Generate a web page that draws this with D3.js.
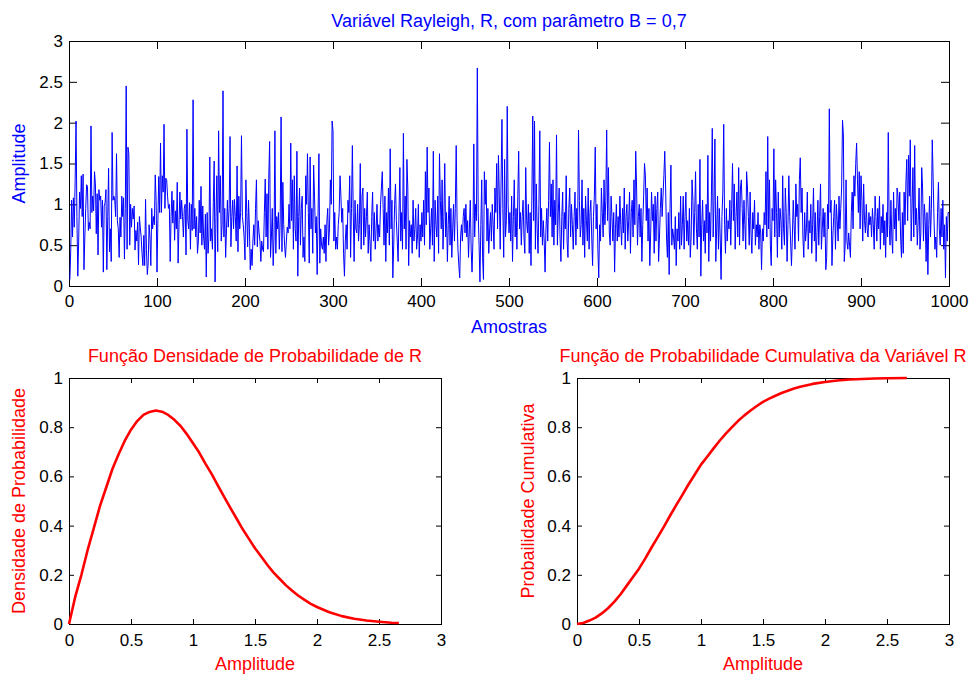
<!DOCTYPE html>
<html>
<head>
<meta charset="utf-8">
<script src="https://cdn.jsdelivr.net/npm/d3@7"></script>
<style>
  html, body { margin: 0; padding: 0; background: #fff; }
  svg { display: block; font-family: 'Liberation Sans', Arial, sans-serif; }
</style>
</head>
<body>
<svg width="969" height="675"></svg>
<script>
'use strict'

// amostras da variavel Rayleigh (1000 pontos)
const samples = [
  0.08, 0.45, 1.05, 0.6, 1.08, 0.72, 1.3, 2.02, 0.85, 0.12, 0.55, 1.15, 0.95, 1.35, 0.85, 1.37, 0.2, 0.6, 0.95, 1.24,
  1.22, 0.68, 0.78, 0.7, 1.96, 0.9, 1.1, 0.92, 1.4, 1.25, 0.64, 1.13, 0.38, 1.18, 1.05, 1.1, 0.72, 1.05, 0.17, 0.98,
  1.02, 1.18, 0.2, 0.85, 1.44, 0.42, 0.7, 0.3, 1.88, 1.05, 1.1, 1.05, 0.85, 1.62, 0.8, 0.7, 0.35, 0.84, 0.6, 1.1,
  0.85, 1.08, 0.33, 0.95, 2.45, 0.45, 1.7, 1.62, 0.5, 1.0, 0.72, 0.95, 0.82, 0.98, 0.44, 0.68, 0.55, 0.78, 0.26, 0.85,
  0.72, 0.6, 0.4, 0.25, 0.62, 0.25, 1.06, 0.45, 0.14, 0.28, 0.75, 0.6, 0.25, 0.95, 0.7, 0.85, 0.75, 1.36, 1.05, 0.17,
  0.8, 1.34, 0.9, 1.75, 0.9, 1.35, 1.15, 1.98, 0.95, 1.32, 1.3, 1.1, 0.95, 1.0, 0.3, 0.85, 1.16, 0.77, 1.05, 0.56,
  0.92, 0.7, 1.27, 0.28, 0.75, 1.15, 0.82, 1.05, 0.85, 0.6, 0.95, 1.0, 0.38, 1.92, 0.8, 0.7, 1.02, 0.45, 1.0, 0.68,
  2.28, 0.7, 0.95, 0.6, 0.85, 0.4, 0.55, 1.05, 0.65, 1.22, 0.5, 0.98, 0.6, 0.45, 0.88, 0.11, 0.9, 0.4, 0.6, 1.58,
  0.55, 0.7, 0.45, 1.02, 1.53, 0.05, 0.85, 1.35, 0.42, 1.9, 0.9, 1.35, 0.55, 0.75, 2.39, 0.6, 0.95, 0.35, 0.7, 1.05,
  0.72, 0.95, 1.83, 0.48, 0.85, 1.05, 0.7, 1.06, 0.85, 0.55, 1.47, 0.42, 1.1, 0.7, 0.9, 1.84, 0.85, 0.75, 0.6, 0.32,
  1.3, 0.9, 0.48, 1.05, 0.7, 0.2, 0.45, 0.25, 0.55, 0.75, 0.5, 0.95, 1.3, 0.48, 0.8, 0.65, 0.55, 0.3, 0.55, 0.45,
  0.42, 0.9, 1.31, 0.6, 1.13, 0.45, 1.32, 1.77, 0.35, 0.6, 0.95, 0.25, 0.6, 1.9, 0.4, 0.85, 0.7, 0.9, 0.45, 0.8,
  2.07, 0.42, 1.27, 0.75, 0.5, 0.35, 0.55, 0.72, 0.65, 1.0, 0.7, 1.75, 0.8, 1.3, 0.45, 1.35, 0.7, 0.55, 1.65, 0.12,
  0.85, 1.2, 0.5, 0.95, 1.1, 0.35, 0.6, 0.3, 1.35, 1.0, 1.62, 0.9, 0.28, 1.58, 0.7, 0.95, 0.4, 1.48, 1.1, 0.65,
  0.85, 0.14, 0.85, 1.62, 0.28, 0.7, 0.5, 0.45, 0.6, 0.4, 0.75, 0.3, 0.78, 0.95, 0.5, 0.7, 1.3, 1.0, 2.02, 1.9,
  0.55, 0.9, 0.45, 0.6, 0.45, 0.75, 0.9, 1.35, 1.1, 0.78, 0.95, 0.4, 0.12, 0.55, 0.75, 0.45, 1.05, 0.9, 1.35, 0.35,
  0.95, 1.72, 0.9, 0.3, 1.05, 0.7, 0.65, 1.0, 0.55, 0.75, 1.5, 0.45, 1.1, 1.2, 0.5, 0.95, 0.6, 0.85, 1.15, 0.4,
  0.75, 0.55, 0.3, 0.85, 1.15, 0.55, 0.9, 0.45, 0.7, 1.0, 0.55, 0.75, 0.6, 1.0, 1.2, 1.4, 0.95, 0.5, 1.1, 0.3,
  0.9, 0.65, 1.2, 0.5, 1.68, 0.7, 1.05, 0.1, 0.5, 1.0, 1.25, 0.8, 0.55, 0.3, 0.9, 1.45, 0.55, 0.9, 0.45, 1.87,
  0.7, 1.1, 0.45, 1.55, 1.2, 0.25, 0.8, 0.6, 0.75, 0.4, 1.05, 0.55, 0.7, 0.95, 0.45, 0.6, 1.0, 0.35, 0.75, 0.55,
  0.9, 0.6, 1.05, 0.5, 1.4, 0.75, 1.7, 0.9, 1.2, 0.45, 0.7, 0.95, 0.5, 1.65, 0.3, 1.05, 0.75, 0.6, 1.1, 0.4,
  1.62, 1.05, 0.7, 1.3, 0.45, 0.85, 1.5, 0.6, 0.9, 0.3, 0.75, 1.1, 0.5, 0.95, 0.35, 0.7, 1.0, 0.55, 0.95, 1.72,
  0.8, 0.45, 0.25, 0.1, 0.6, 0.75, 0.55, 0.85, 0.95, 0.65, 1.0, 0.6, 0.8, 0.35, 0.7, 1.05, 0.45, 0.17, 0.55, 1.74,
  0.6, 1.0, 0.8, 2.67, 0.9, 0.5, 0.05, 0.75, 1.3, 0.35, 0.08, 1.4, 1.0, 1.3, 0.55, 0.95, 0.4, 0.7, 0.9, 0.55,
  1.0, 0.75, 0.45, 1.2, 0.9, 1.5, 0.7, 1.6, 1.1, 0.45, 1.3, 2.04, 0.95, 0.35, 1.55, 0.6, 0.8, 2.2, 1.0, 0.65,
  0.9, 0.55, 1.1, 0.3, 0.85, 1.3, 0.6, 0.95, 0.45, 1.1, 1.65, 0.7, 0.9, 0.5, 0.85, 1.05, 0.6, 0.4, 1.45, 0.8,
  0.65, 1.0, 0.4, 0.9, 0.25, 1.1, 2.08, 0.8, 2.02, 0.45, 1.25, 0.7, 0.4, 1.0, 1.9, 0.6, 0.95, 0.5, 0.8, 0.55,
  0.17, 0.7, 0.95, 0.55, 1.05, 1.76, 0.85, 1.25, 0.6, 1.3, 0.5, 1.05, 0.75, 1.85, 0.5, 0.9, 1.2, 0.6, 0.3, 0.85,
  1.15, 0.45, 0.9, 0.7, 1.35, 0.55, 0.35, 0.95, 1.2, 0.6, 1.0, 0.75, 0.45, 0.85, 1.15, 0.5, 0.95, 0.7, 1.91, 1.05,
  0.6, 0.75, 1.3, 0.5, 0.95, 0.35, 1.1, 0.8, 0.55, 1.2, 0.45, 0.9, 1.05, 0.6, 0.25, 0.85, 1.1, 1.7, 0.7, 1.0,
  0.45, 0.1, 0.75, 0.55, 1.2, 0.9, 0.6, 1.3, 0.75, 1.05, 1.91, 0.8, 1.45, 0.65, 0.5, 1.1, 0.85, 0.55, 0.9, 0.17,
  0.7, 1.0, 0.55, 0.85, 0.6, 1.1, 0.75, 0.5, 0.95, 0.65, 1.2, 0.45, 0.85, 1.0, 0.55, 0.8, 1.15, 0.4, 0.9, 1.05,
  0.6, 1.3, 0.75, 1.65, 1.2, 0.5, 0.85, 1.0, 0.6, 0.95, 0.3, 0.75, 1.1, 1.5, 1.35, 0.8, 1.2, 0.55, 0.95, 0.25,
  0.65, 1.15, 0.8, 1.0, 0.4, 1.1, 0.55, 0.95, 1.15, 0.3, 0.6, 0.95, 1.2, 0.85, 1.1, 1.35, 1.65, 1.2, 0.6, 0.35,
  0.9, 0.14, 0.95, 1.48, 0.5, 0.7, 0.6, 0.45, 0.85, 0.25, 0.7, 0.55, 0.9, 0.45, 1.1, 0.5, 0.75, 1.1, 0.45, 0.85,
  1.15, 0.55, 0.8, 0.5, 0.95, 0.35, 0.6, 1.3, 1.05, 0.5, 0.9, 1.4, 0.7, 0.45, 1.0, 0.6, 1.55, 0.12, 0.75, 1.05,
  0.55, 0.8, 0.4, 1.0, 0.65, 1.6, 0.3, 0.9, 0.55, 1.1, 1.93, 0.6, 1.05, 1.8, 0.3, 0.7, 1.1, 0.45, 0.95, 0.6,
  0.08, 0.85, 1.15, 1.98, 0.75, 0.4, 0.95, 0.55, 0.8, 0.7, 1.05, 0.5, 0.95, 1.5, 0.8, 1.25, 0.45, 0.85, 1.15, 0.6,
  1.45, 0.5, 1.2, 1.3, 0.95, 0.55, 1.05, 0.75, 0.45, 1.4, 1.2, 0.85, 0.5, 1.15, 0.65, 0.4, 0.9, 0.7, 1.05, 0.5,
  0.75, 0.6, 0.9, 0.45, 0.75, 0.65, 0.2, 0.7, 0.55, 0.9, 0.75, 1.4, 0.6, 1.83, 0.7, 1.3, 0.5, 0.25, 0.95, 0.8,
  1.68, 0.6, 1.3, 0.9, 0.35, 1.15, 0.6, 0.95, 0.8, 0.45, 1.35, 0.7, 0.5, 1.2, 0.9, 0.3, 0.75, 1.35, 0.85, 0.55,
  0.25, 0.6, 1.05, 0.75, 0.45, 1.25, 0.85, 1.0, 0.55, 1.3, 1.57, 0.9, 1.2, 0.6, 0.35, 0.9, 0.55, 0.7, 1.15, 0.45,
  0.8, 0.65, 1.0, 0.4, 0.75, 1.2, 0.55, 0.9, 0.3, 0.65, 1.05, 0.5, 0.85, 1.25, 0.45, 0.7, 0.95, 0.6, 0.9, 0.2,
  0.35, 1.0, 0.7, 2.17, 0.9, 1.05, 0.25, 0.6, 0.85, 1.05, 0.45, 1.0, 0.8, 0.55, 1.1, 0.7, 0.95, 1.2, 2.03, 1.85,
  0.3, 0.5, 1.3, 0.55, 0.45, 0.65, 0.5, 0.35, 0.9, 1.15, 0.7, 1.35, 1.1, 1.5, 1.75, 1.3, 0.9, 1.4, 0.7, 1.35,
  1.05, 0.55, 1.25, 0.8, 0.65, 1.0, 0.7, 0.6, 0.9, 0.75, 0.85, 0.6, 0.95, 0.75, 0.45, 1.1, 0.85, 0.55, 0.95, 0.7,
  1.1, 0.45, 0.85, 0.65, 1.0, 0.5, 0.8, 0.35, 0.9, 0.6, 1.88, 0.75, 0.5, 1.05, 0.6, 0.4, 1.15, 0.7, 0.95, 0.55,
  1.2, 1.1, 0.8, 1.15, 0.6, 0.35, 0.9, 0.4, 1.15, 0.75, 1.25, 1.55, 0.8, 1.6, 1.1, 1.79, 0.55, 0.95, 1.45, 0.6,
  1.72, 0.75, 0.95, 0.5, 0.8, 1.2, 0.45, 0.65, 1.45, 1.2, 0.55, 1.0, 0.8, 0.3, 0.9, 0.14, 0.75, 1.1, 0.6, 0.95,
  1.79, 1.3, 0.8, 0.45, 0.6, 0.35, 0.9, 1.27, 0.7, 0.5, 0.95, 0.6, 1.05, 0.45, 0.75, 0.1, 0.85, 0.55, 0.9, 0.9
]

// densidade de probabilidade estimada
const pdfAmplitude = [0, 0.05, 0.1, 0.15, 0.2, 0.25, 0.3, 0.35, 0.4, 0.45, 0.5, 0.55, 0.6, 0.65, 0.7, 0.75, 0.8, 0.85, 0.9, 0.95,
  1.0, 1.05, 1.1, 1.15, 1.2, 1.25, 1.3, 1.35, 1.4, 1.45, 1.5, 1.55, 1.6, 1.65, 1.7, 1.75, 1.8, 1.85, 1.9, 1.95,
  2.0, 2.1, 2.2, 2.3, 2.4, 2.5, 2.6, 2.66]
const pdfValues = [0, 0.11, 0.2, 0.3, 0.39, 0.48, 0.555, 0.63, 0.69, 0.745, 0.79, 0.825, 0.85, 0.862, 0.868, 0.863, 0.85, 0.83, 0.805, 0.772,
  0.735, 0.697, 0.652, 0.61, 0.564, 0.518, 0.473, 0.43, 0.386, 0.347, 0.308, 0.274, 0.24, 0.209, 0.183, 0.157, 0.135, 0.115, 0.098, 0.082,
  0.069, 0.048, 0.032, 0.021, 0.014, 0.009, 0.005, 0.004]

// probabilidade cumulativa
const cdfAmplitude = [0, 0.05, 0.1, 0.15, 0.2, 0.25, 0.3, 0.35, 0.4, 0.45, 0.5, 0.55, 0.6, 0.65, 0.7, 0.75, 0.8, 0.85, 0.9, 0.95,
  1.0, 1.05, 1.1, 1.15, 1.2, 1.25, 1.3, 1.35, 1.4, 1.45, 1.5, 1.55, 1.6, 1.65, 1.7, 1.75, 1.8, 1.9, 2.0, 2.1,
  2.2, 2.3, 2.4, 2.5, 2.66]
const cdfValues = [0, 0.004, 0.014, 0.026, 0.043, 0.064, 0.09, 0.12, 0.155, 0.19, 0.225, 0.266, 0.31, 0.352, 0.395, 0.44, 0.483, 0.525, 0.568, 0.608,
  0.648, 0.68, 0.713, 0.745, 0.774, 0.8, 0.826, 0.848, 0.868, 0.886, 0.903, 0.916, 0.928, 0.939, 0.948, 0.957, 0.964, 0.976, 0.984, 0.99,
  0.994, 0.996, 0.998, 0.999, 1.0]

const sampleTicks = [0, 100, 200, 300, 400, 500, 600, 700, 800, 900, 1000]
const amplitudeTicks = [0, 0.5, 1, 1.5, 2, 2.5, 3]
const probabilityTicks = [0, 0.2, 0.4, 0.6, 0.8, 1]

const svg = d3.select('body svg')
svg.append('rect').attr('width', 969).attr('height', 675).attr('fill', '#fff')

const drawPanel = (opt) => {
  const g = svg.append('g').attr('transform', `translate(${opt.left}, ${opt.top})`)
  const xScale = d3.scaleLinear().domain(opt.xDomain).range([0, opt.width])
  const yScale = d3.scaleLinear().domain(opt.yDomain).range([opt.height, 0])

  const fmt = (d) => String(d)
  const styleAxis = (sel) => {
    sel.select('path.domain').remove()
    sel.selectAll('g.tick line').attr('stroke', '#000')
    sel.selectAll('g.tick text').attr('fill', '#000').style('font-size', '17px')
  }

  g.append('g').attr('transform', `translate(0, ${opt.height})`)
    .call(d3.axisBottom(xScale).tickValues(opt.xTicks).tickFormat(fmt)
      .tickSizeInner(-opt.tickLen).tickSizeOuter(0).tickPadding(opt.xPad))
    .call(styleAxis)
  g.append('g')
    .call(d3.axisTop(xScale).tickValues(opt.xTicks).tickFormat('')
      .tickSizeInner(-opt.tickLen).tickSizeOuter(0))
    .call(styleAxis)
  g.append('g')
    .call(d3.axisLeft(yScale).tickValues(opt.yTicks).tickFormat(fmt)
      .tickSizeInner(-opt.tickLen).tickSizeOuter(0).tickPadding(6))
    .call(styleAxis)
  g.append('g').attr('transform', `translate(${opt.width}, 0)`)
    .call(d3.axisRight(yScale).tickValues(opt.yTicks).tickFormat('')
      .tickSizeInner(-opt.tickLen).tickSizeOuter(0))
    .call(styleAxis)

  g.append('rect')
    .attr('x', 0).attr('y', 0)
    .attr('width', opt.width).attr('height', opt.height)
    .attr('fill', 'none').attr('stroke', '#000').attr('stroke-width', 1)
    .attr('shape-rendering', 'crispEdges')

  const line = d3.line()
    .x((d) => xScale(d[0]))
    .y((d) => yScale(d[1]))
  g.append('path')
    .datum(opt.points)
    .attr('d', line)
    .attr('fill', 'none')
    .attr('stroke', opt.lineColor)
    .attr('stroke-width', opt.lineWidth)
    .attr('stroke-linejoin', 'round')

  g.append('text')
    .attr('x', opt.width / 2).attr('y', opt.titleY)
    .attr('text-anchor', 'middle')
    .attr('fill', opt.textColor).style('font-size', '18px')
    .text(opt.title)
  g.append('text')
    .attr('x', opt.width / 2).attr('y', opt.xLabelY)
    .attr('text-anchor', 'middle')
    .attr('fill', opt.textColor).style('font-size', '18px')
    .text(opt.xLabel)
  g.append('text')
    .attr('transform', `translate(${opt.yLabelX}, ${opt.height / 2}) rotate(-90)`)
    .attr('text-anchor', 'middle')
    .attr('fill', opt.textColor).style('font-size', '18px')
    .text(opt.yLabel)
}

drawPanel({
  left: 69, top: 41, width: 880, height: 245,
  xDomain: [0, 1000], yDomain: [0, 3],
  xTicks: sampleTicks, yTicks: amplitudeTicks,
  tickLen: 8, xPad: 9,
  points: samples.map((v, i) => [i + 1, v]),
  lineColor: '#0000ff', lineWidth: 1,
  textColor: '#0000ff',
  title: 'Variável Rayleigh, R, com parâmetro B = 0,7', titleY: -14,
  xLabel: 'Amostras', xLabelY: 292,
  yLabel: 'Amplitude', yLabelX: -44
})

drawPanel({
  left: 69, top: 378, width: 372, height: 246,
  xDomain: [0, 3], yDomain: [0, 1],
  xTicks: amplitudeTicks, yTicks: probabilityTicks,
  tickLen: 5, xPad: 10,
  points: pdfAmplitude.map((a, i) => [a, pdfValues[i]]),
  lineColor: '#ff0000', lineWidth: 2.6,
  textColor: '#ff0000',
  title: 'Função Densidade de Probabilidade de R', titleY: -16,
  xLabel: 'Amplitude', xLabelY: 292,
  yLabel: 'Densidade de Probabilidade', yLabelX: -44
})

drawPanel({
  left: 577, top: 378, width: 372, height: 246,
  xDomain: [0, 3], yDomain: [0, 1],
  xTicks: amplitudeTicks, yTicks: probabilityTicks,
  tickLen: 5, xPad: 10,
  points: cdfAmplitude.map((a, i) => [a, cdfValues[i]]),
  lineColor: '#ff0000', lineWidth: 2.6,
  textColor: '#ff0000',
  title: 'Função de Probabilidade Cumulativa da Variável R', titleY: -16,
  xLabel: 'Amplitude', xLabelY: 292,
  yLabel: 'Probailidade Cumulativa', yLabelX: -43
})
</script>
</body>
</html>
